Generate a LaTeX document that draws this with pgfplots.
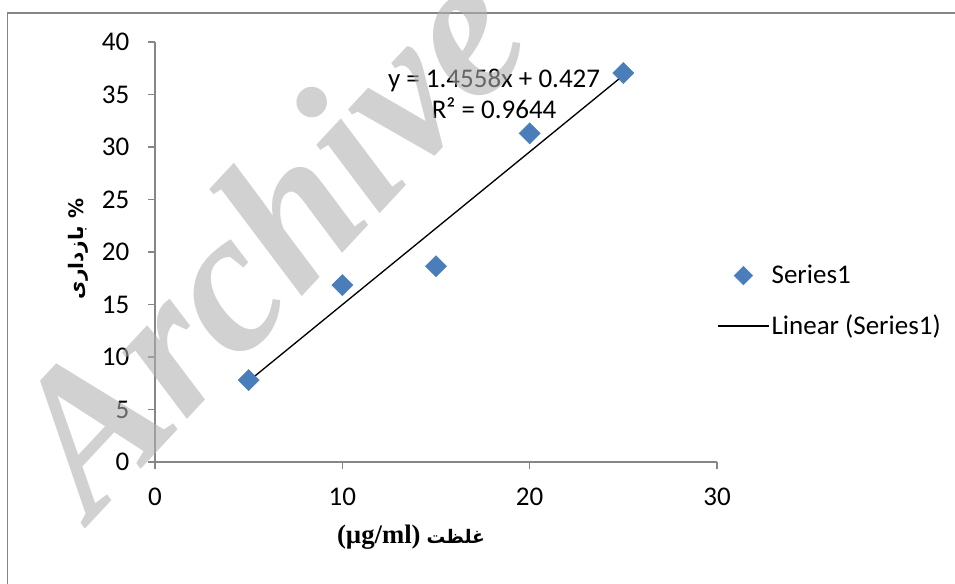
\documentclass[border=0pt]{standalone}
\usepackage{pgfplots}
\pgfplotsset{compat=1.18}
\usepackage{fontspec}
\setmainfont{Carlito}
\newfontfamily\arabicfont[Script=Arabic]{DejaVu Sans}
\newfontfamily\serifb{Liberation Serif}
\TeXXeTstate=1
\definecolor{axgray}{HTML}{868686}
\definecolor{mblue}{HTML}{4A7EBB}
\definecolor{wm}{gray}{0.69}
\def\px{0.75pt}
\pgfplotsset{
  marklegend/.style={legend image code/.code={\path (0pt,0pt) (38.25pt,0pt);
    \draw[##1, mark size=4.9pt] plot coordinates {(19.125pt,0pt)};}},
  linelegend/.style={legend image code/.code={\draw[##1] (0pt,0pt) -- (38.25pt,0pt);}},
}
\begin{document}
\begin{tikzpicture}
\path[use as bounding box] (0,0) rectangle (955*\px,-583*\px);
\begin{scope}
\clip (0,0) rectangle (955*\px,-583*\px);
\draw[axgray, line width=1.2pt] (7.5*\px,-13*\px) rectangle (1000*\px,-650*\px);
\begin{axis}[
  at={(155*\px,-462*\px)}, anchor=south west,
  scale only axis, width=421.5pt, height=315pt,
  xmin=0, xmax=30, ymin=0, ymax=40,
  axis lines=left, axis line style={-, axgray, line width=1.1pt},
  xtick={0,10,20,30}, ytick={0,5,...,40},
  tick align=outside, major tick length=5.25pt,
  tick style={axgray, line width=1.1pt},
  /pgf/number format/assume math mode=true,
  ticklabel style={font=\fontsize{20.25}{24}\selectfont, text=black},
  yticklabel style={xshift=-10.5pt},
  xticklabel style={yshift=-10.5pt},
  clip=false,
  legend style={at={(1,0.383)}, anchor=west, draw=none, fill=none, inner sep=0pt,
    font=\fontsize{20.25}{24}\selectfont, row sep=19pt, nodes={inner sep=1.5pt}},
  legend cell align=left,
]
\addplot[only marks, mark=square*, mark size=5.57pt, color=mblue,
  mark options={rotate=45, fill=mblue, draw=mblue}, marklegend]
  coordinates {(5,7.8) (10,16.85) (15,18.65) (20,31.3) (25,37.05)};
\addlegendentry{Series1}
\addplot[black, line width=1pt, linelegend]
  coordinates {(5,7.706) (25,36.822)};
\addlegendentry{Linear (Series1)}
\node[align=center, font=\fontsize{20.25}{23.5}\selectfont] at (axis cs:18.1,35.05)
  {y = 1.4558x + 0.427\\R² = 0.9644};
\end{axis}
\node[font=\fontsize{20}{24}\selectfont] at (411*\px,-537*\px)
  {{\serifb\bfseries (µg/ml)} {\arabicfont\bfseries\fontsize{14}{18}\selectfont\beginR غلظت\endR}};
\node[rotate=90, font=\fontsize{15}{18}\selectfont] at (78*\px,-249*\px)
  {{\arabicfont\bfseries\beginR بازداری\endR{} \%}};
\node[font=\serifb\bfseries\itshape\fontsize{152}{160}\selectfont, text=wm, opacity=0.58,
  rotate=47, anchor=base west, inner sep=0pt] at (92*\px,-522*\px) {Archive of SID};
\end{scope}
\end{tikzpicture}
\end{document}
